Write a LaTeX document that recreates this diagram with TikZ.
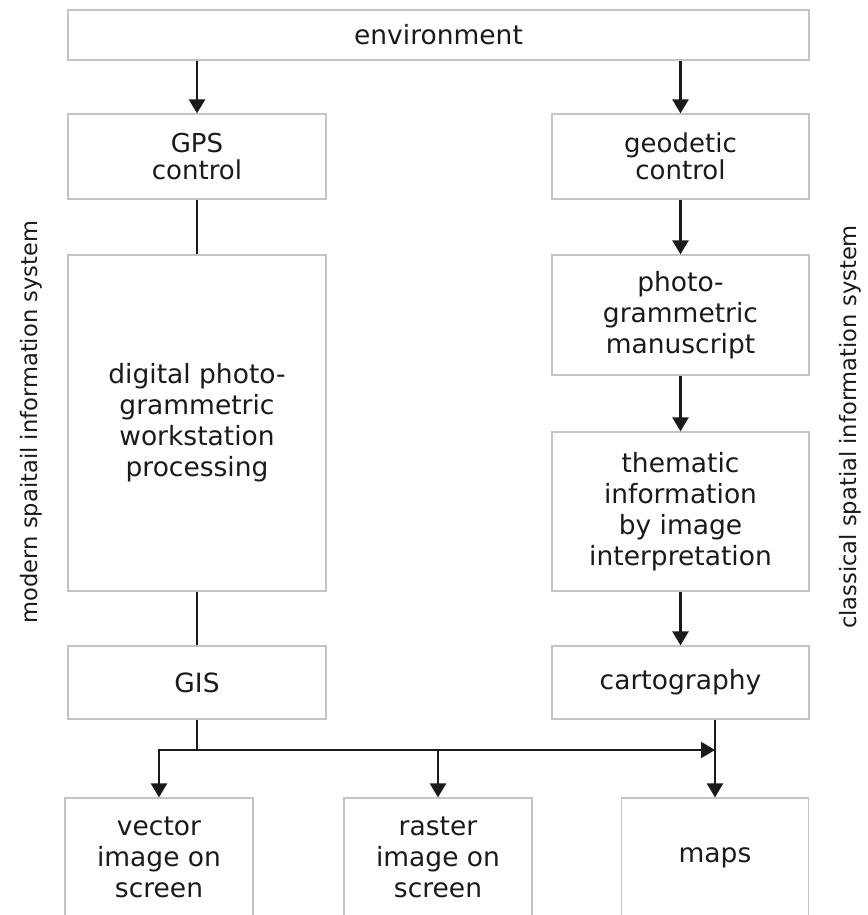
\documentclass[tikz,border=0pt]{standalone}
\usepackage{fontspec}
\setmainfont{DejaVu Sans}
\usetikzlibrary{arrows.meta}
\definecolor{boxgray}{HTML}{C4C4C4}
\definecolor{ink}{HTML}{1A1A1A}
\begin{document}
\begin{tikzpicture}[x=1pt,y=-1pt,
  box/.style={draw=boxgray, line width=1.2pt, align=center, inner sep=0pt,
    text=ink, font=\fontsize{26.5}{31}\selectfont},
  smalltext/.style={font=\fontsize{26}{27}\selectfont},
  side/.style={text=ink, inner sep=0pt, rotate=90, font=\fontsize{22.6}{26}\selectfont},
  link/.style={draw=ink, line width=2.4pt},
  arr/.style={link, -{Triangle[length=14pt,width=16pt]}}]
\useasboundingbox (0,0) rectangle (867,915);
\clip (0,0) rectangle (867,915);

% top row
\node[box, minimum width=741pt, minimum height=50pt] (env) at (438.5,35) {environment};

% left column: modern workflow
\node[box, smalltext, minimum width=258pt, minimum height=85pt] (gps) at (197,156.5) {GPS\\control};
\node[box, minimum width=258pt, minimum height=336pt] (dig) at (197,423) {digital photo-\\grammetric\\workstation\\processing};
\node[box, minimum width=258pt, minimum height=73pt] (gis) at (197,682.5) {GIS};

% right column: classical workflow
\node[box, smalltext, minimum width=257pt, minimum height=85pt] (geo) at (680.5,156.5) {geodetic\\control};
\node[box, minimum width=257pt, minimum height=120pt] (photo) at (680.5,315) {photo-\\grammetric\\manuscript};
\node[box, minimum width=257pt, minimum height=159pt] (them) at (680.5,511.5) {thematic\\information\\by image\\interpretation};
\node[box, minimum width=257pt, minimum height=73pt] (carto) at (680.5,682.5) {cartography};

% products
\node[box, minimum width=188pt, minimum height=119pt] (vec) at (159,857.5) {vector\\image on\\screen};
\node[box, minimum width=188pt, minimum height=119pt] (ras) at (438,857.5) {raster\\image on\\screen};
\node[box, minimum width=187pt, minimum height=119pt] (maps) at (715,857.5) {maps};

% side captions
\node[side] (modern) at (31,422) {modern spaitail information system};
\node[side] (classic) at (850,427) {classical spatial information system};

% connectors
\draw[arr] (env.south -| gps) -- (gps.north);
\draw[arr] (env.south -| geo) -- (geo.north);
\draw[link] (gps.south) -- (dig.north);
\draw[link] (dig.south) -- (gis.north);
\draw[arr] (geo.south) -- (photo.north);
\draw[arr] (photo.south) -- (them.north);
\draw[arr] (them.south) -- (carto.north);

\coordinate (jl) at (159,750);
\coordinate (jr) at (715,750);
\draw[link] (gis.south) -- (gis.south |- jl);
\draw[arr, line cap=rect] (jl) -- (jr);
\draw[arr, line cap=rect] (jl) -- (vec.north);
\draw[arr] (ras.north |- jl) -- (ras.north);
\draw[arr] (maps.north |- carto.south) -- (maps.north);
\end{tikzpicture}
\end{document}
